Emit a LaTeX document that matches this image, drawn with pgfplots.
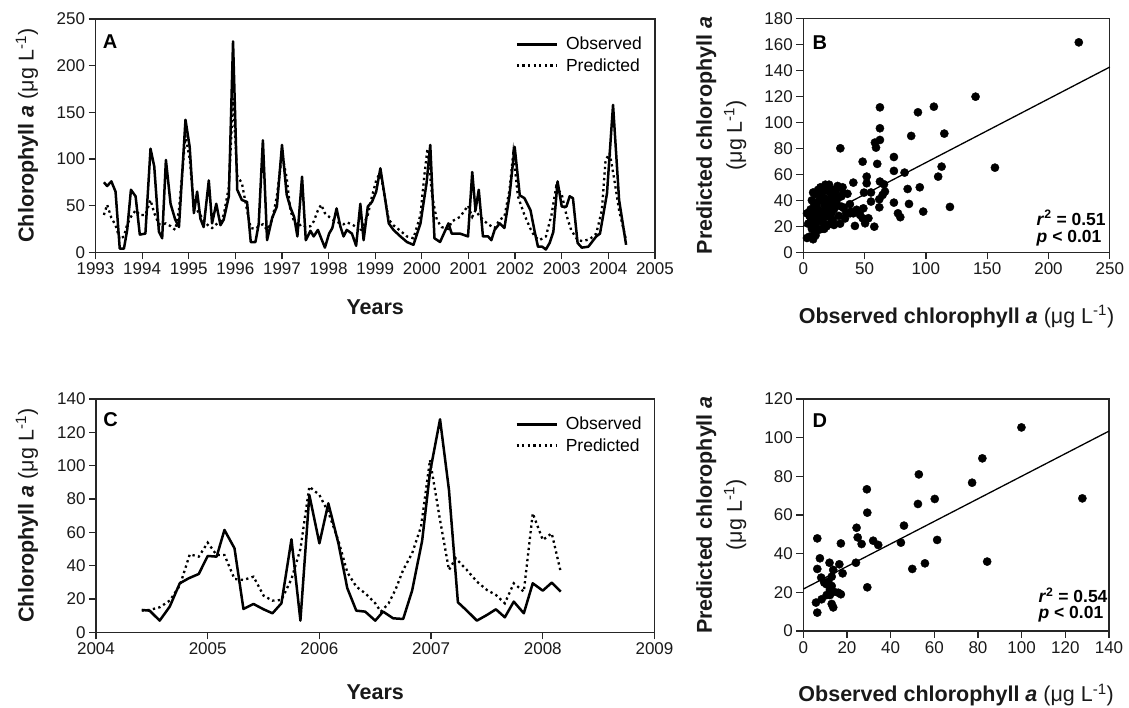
\documentclass[border=0pt]{standalone}
\usepackage{fontspec}
\setmainfont{Liberation Sans}
\usepackage{pgfplots}
\pgfplotsset{compat=1.18}

\pgfplotsset{
  panel/.style={
    scale only axis,
    axis line style={line width=1.2pt, color=black!85},
    every tick/.style={line width=1.2pt, color=black!85},
    tick align=outside, major tick length=7pt,
    tick pos=left,
    ticklabel style={font=\fontsize{17}{18}\selectfont, color=black!90},
    label style={font=\bfseries\fontsize{21.5}{24}\selectfont, color=black!90},
    /pgf/number format/assume math mode=true,
    /pgf/number format/1000 sep={},
    clip=false,
  },
  obs/.style={black, line width=2.5pt, line join=round},
  pre/.style={black, line width=2.3pt, dash pattern=on 2.3pt off 3.3pt},
  leg/.style={legend style={draw=none, fill=none, at={(rel axis cs:0.745,0.94)}, anchor=north west,
      font=\fontsize{17.5}{19}\selectfont, row sep=3pt, legend cell align=left},
    legend image code/.code={\draw[##1] (0pt,0pt) -- (40pt,0pt); \path (46pt,0pt);}},
  dots/.style={only marks, mark=*, mark size=4.1pt, black},
}

\newcommand{\chla}{Chlorophyll \textit{a} {\mdseries(μg L\textsuperscript{-1})}}
\newcommand{\obsl}{Observed chlorophyll \textit{a} {\mdseries(μg L\textsuperscript{-1})}}

\begin{document}
\begin{tikzpicture}
\useasboundingbox (0pt,0pt) rectangle (1129pt,708pt);

% ---------------- Panel A ----------------
\begin{axis}[panel, leg, at={(95.5pt,455.7pt)}, anchor=south west,
  width=559.5pt, height=233.3pt,
  xmin=1993, xmax=2005, ymin=0, ymax=250,
  xtick={1993,1994,...,2005}, ytick={0,50,...,250},
  xlabel={Years}, ylabel={\chla},
  xlabel style={at={(axis description cs:0.5,-0.2345)}, anchor=center},
  ylabel style={at={(axis description cs:-0.1224,0.5)}, anchor=center},
]
\addplot[obs] table {
1993.18 75
1993.25 71
1993.34 76
1993.43 65
1993.52 4
1993.61 4
1993.68 24
1993.76 67
1993.86 60
1993.95 19
1994.07 20
1994.18 111
1994.26 92
1994.36 22
1994.43 15
1994.51 99
1994.61 52
1994.71 35
1994.79 27
1994.93 142
1995.02 113
1995.11 42
1995.18 65
1995.25 36
1995.32 27
1995.43 77
1995.50 31
1995.59 52
1995.68 29
1995.75 35
1995.86 60
1995.95 226
1996.04 67
1996.14 56
1996.25 54
1996.33 11
1996.43 11
1996.50 30
1996.59 120
1996.68 13
1996.79 37
1996.89 49
1997.00 115
1997.10 62
1997.18 48
1997.26 38
1997.33 17
1997.43 81
1997.51 13
1997.61 23
1997.68 17
1997.77 24
1997.84 15
1997.92 5
1998.01 20
1998.08 26
1998.17 47
1998.25 28
1998.32 17
1998.39 24
1998.50 20
1998.59 7
1998.68 52
1998.75 13
1998.84 49
1998.93 54
1999.02 65
1999.11 90
1999.20 61
1999.29 31
1999.39 24
1999.54 17
1999.68 11
1999.82 8
1999.97 31
2000.10 74
2000.18 115
2000.27 15
2000.39 11
2000.57 31
2000.64 20
2000.82 20
2000.99 17
2001.08 86
2001.15 45
2001.22 67
2001.31 17
2001.42 17
2001.49 13
2001.56 24
2001.67 31
2001.77 26
2001.88 61
2001.99 113
2002.10 61
2002.20 58
2002.33 45
2002.42 22
2002.49 6
2002.58 6
2002.66 3
2002.74 10
2002.82 22
2002.91 76
2003.00 49
2003.10 49
2003.17 60
2003.24 58
2003.34 10
2003.43 5
2003.57 6
2003.74 17
2003.82 20
2003.97 63
2004.10 158
2004.23 56
2004.38 8
};
\addplot[pre] table {
1993.18 40
1993.25 51
1993.34 37
1993.43 29
1993.52 14
1993.61 17
1993.68 30
1993.76 38
1993.86 45
1993.95 40
1994.07 40
1994.18 56
1994.26 42
1994.36 30
1994.43 30
1994.51 31
1994.61 28
1994.71 24
1994.79 45
1994.93 125
1995.02 100
1995.11 50
1995.18 45
1995.25 40
1995.32 34
1995.43 28
1995.50 26
1995.59 30
1995.68 33
1995.75 40
1995.86 70
1995.95 165
1996.04 82
1996.14 74
1996.25 45
1996.33 26
1996.43 25
1996.50 28
1996.59 30
1996.68 24
1996.79 35
1996.89 60
1997.00 105
1997.10 80
1997.18 45
1997.26 33
1997.33 28
1997.43 30
1997.51 27
1997.61 28
1997.68 33
1997.77 45
1997.84 51
1997.92 42
1998.01 38
1998.08 35
1998.17 33
1998.25 31
1998.32 30
1998.39 32
1998.50 30
1998.59 27
1998.68 22
1998.75 30
1998.84 40
1998.93 60
1999.02 77
1999.11 86
1999.20 60
1999.29 35
1999.39 29
1999.54 23
1999.68 17
1999.82 15
1999.97 40
2000.05 81
2000.12 111
2000.22 60
2000.32 35
2000.42 27
2000.57 25
2000.64 33
2000.82 38
2000.99 50
2001.08 38
2001.15 45
2001.22 40
2001.31 35
2001.42 30
2001.56 26
2001.67 35
2001.77 38
2001.88 67
2001.96 106
2002.06 60
2002.20 40
2002.33 25
2002.42 17
2002.52 13
2002.66 17
2002.78 40
2002.88 70
2003.00 62
2003.10 40
2003.20 24
2003.34 13
2003.45 12
2003.60 14
2003.74 20
2003.86 45
2003.94 99
2004.03 106
2004.12 80
2004.23 45
2004.38 13
};
\legend{Observed, Predicted}
\node[font=\bfseries\fontsize{20}{22}\selectfont] at (rel axis cs:0.026,0.903) {A};
\end{axis}

% ---------------- Panel B ----------------
\begin{axis}[panel, at={(803.3pt,455.7pt)}, anchor=south west,
  width=306.5pt, height=234pt,
  xmin=0, xmax=250, ymin=0, ymax=180,
  xtick={0,50,...,250}, ytick={0,20,...,180},
  xlabel={\obsl},
  ylabel={Predicted chlorophyll \textit{a}\\{\mdseries(μg L\textsuperscript{-1})}},
  xlabel style={at={(axis description cs:0.5,-0.2756)}, anchor=center},
  ylabel style={at={(axis description cs:-0.2675,0.5)}, anchor=center, align=center,
    font=\bfseries\fontsize{21.5}{30}\selectfont},
]
\addplot[dots] table {
224.7 161.5
140.5 119.7
156.3 65.1
106.5 112
93.5 107.7
115 91.3
88 89.5
112.8 65.9
110 58.2
119.6 34.9
97.8 31.3
95 50
86.2 37.2
85.1 48.7
82.6 61.3
73.9 73.3
73.9 62.6
73.9 38.2
77.2 30
79.1 27
62.5 111.5
62.5 95.4
62.5 86.4
58.4 84.4
59.3 80.5
60.3 68
62.5 54.4
65.8 52.3
66.6 46.7
64.7 44.1
62 40.8
62 34.6
57.9 19.7
55.2 39
53.1 26.2
51.7 58.2
51.7 53.1
48.4 69.7
49.5 45.9
49 33.8
50.4 22.3
46.3 28.7
48.4 26.2
42.1 20.3
40.8 30
40.8 53.6
38.1 30
30.2 80
32.6 45.4
31.3 35.1
27.2 40.3
24.5 22.3
55.2 46
43.5 32.7
38.8 31.3
3 11
5 12
8 10
9 14
7 18
4 22
5 28
3 30
6 33
8 25
10 21
12 28
11 35
13 40
14 44
15 30
16 26
17 22
15 18
18 35
19 41
20 47
21 52
22 38
23 30
24 25
25 33
26 44
27 48
28 36
29 28
30 22
10 45
12 48
14 50
16 47
18 52
20 32
22 27
24 42
26 37
13 32
11 26
9 30
7 40
6 24
8 46
19 20
17 18
21 34
23 45
25 21
27 40
33 34
35 30
36 45
38 37
34 26
32 50
17 37
16 42
19 28
14 24
12 17
10 13
9 37
20 39
22 22
24 48
28 51
31 43
};
\addplot[black, line width=1.3pt] coordinates {(0,20) (250,142.5)};
\node[anchor=west, font=\bfseries\fontsize{17.5}{20}\selectfont] at (rel axis cs:0.75,0.147) {\textit{r}\textsuperscript{2} = 0.51};
\node[anchor=west, font=\bfseries\fontsize{17.5}{20}\selectfont] at (rel axis cs:0.75,0.062) {\textit{p} < 0.01};
\node[font=\bfseries\fontsize{20}{22}\selectfont] at (rel axis cs:0.054,0.897) {B};
\end{axis}

% ---------------- Panel C ----------------
\begin{axis}[panel, leg, at={(96pt,75.7pt)}, anchor=south west,
  width=558.5pt, height=233.3pt,
  xmin=2004, xmax=2009, ymin=0, ymax=140,
  xtick={2004,2005,...,2009}, ytick={0,20,...,140},
  xlabel={Years}, ylabel={\chla},
  xlabel style={at={(axis description cs:0.5,-0.257)}, anchor=center},
  ylabel style={at={(axis description cs:-0.1235,0.5)}, anchor=center},
]
\addplot[obs] table {
2004.41 13.4
2004.48 13
2004.57 7
2004.66 15.4
2004.75 29.4
2004.83 32.4
2004.92 35
2005.00 45.8
2005.08 45.4
2005.15 61.4
2005.24 50.4
2005.32 14
2005.41 17
2005.50 13.8
2005.58 11.4
2005.66 17.4
2005.75 55.8
2005.83 7
2005.91 82.4
2006.00 53.4
2006.08 77.4
2006.17 53.4
2006.25 26.4
2006.33 13
2006.41 12.4
2006.50 7
2006.57 12.4
2006.66 8.4
2006.75 8
2006.83 25
2006.92 55
2006.99 96
2007.08 127.8
2007.16 85.4
2007.24 18
2007.32 13
2007.41 7
2007.50 10.4
2007.58 13.8
2007.66 9
2007.74 18.4
2007.83 11.4
2007.91 29.4
2008.00 25
2008.08 29.8
2008.16 24.4
};
\addplot[pre] table {
2004.41 13
2004.48 13.4
2004.57 15
2004.66 19
2004.75 28
2004.84 46.8
2004.92 45.4
2005.00 53.8
2005.08 46.4
2005.15 46.4
2005.24 32
2005.32 31.4
2005.41 33.4
2005.50 22
2005.58 19
2005.66 19.4
2005.75 32
2005.83 50
2005.91 87.4
2006.00 82.4
2006.08 72
2006.17 55
2006.25 36
2006.33 27.4
2006.41 23.4
2006.50 17.4
2006.55 12.4
2006.62 17.4
2006.68 25.4
2006.75 37.4
2006.83 47.4
2006.91 63.4
2006.99 103.4
2007.08 67.4
2007.16 37.4
2007.22 44.4
2007.32 37.4
2007.41 30.4
2007.50 25.4
2007.58 22.4
2007.66 17.4
2007.74 29.4
2007.83 24.4
2007.91 71.4
2008.00 55.4
2008.08 59.4
2008.16 36.4
};
\legend{Observed, Predicted}
\node[font=\bfseries\fontsize{20}{22}\selectfont] at (rel axis cs:0.026,0.91) {C};
\end{axis}

% ---------------- Panel D ----------------
\begin{axis}[panel, at={(803.3pt,77pt)}, anchor=south west,
  width=305.7pt, height=232pt,
  xmin=0, xmax=140, ymin=0, ymax=120,
  xtick={0,20,...,140}, ytick={0,20,...,120},
  xlabel={\obsl},
  ylabel={Predicted chlorophyll \textit{a}\\{\mdseries(μg L\textsuperscript{-1})}},
  xlabel style={at={(axis description cs:0.5,-0.276)}, anchor=center},
  ylabel style={at={(axis description cs:-0.268,0.5)}, anchor=center, align=center,
    font=\bfseries\fontsize{21.5}{30}\selectfont},
]
\addplot[dots] table {
99.9 105.3
82 89.3
77.3 76.7
127.8 68.6
84.2 35.9
60.2 68.3
61.3 47.1
52.9 81
52.5 65.7
55.7 35
49.9 32.1
46.1 54.5
44.7 45.7
29.1 73.3
29.3 61.2
29.3 22.6
24.4 53.4
24.9 48.4
26.7 45
32 46.7
34.3 44.5
24.1 35.3
17.2 45.3
18 29.8
16.5 34.5
13.7 31.6
12 35.3
6.4 47.9
6.4 32.1
7.6 37.6
8.2 27.6
9.6 25
10.7 24.1
11.4 25.5
13 23.3
12.2 21.2
14 20.3
16 19.8
17.2 19
10.7 18.6
8.4 16.4
5.8 14.7
6.4 9.5
13 14
13.7 12.2
12.2 18.6
13 28.1
};
\addplot[black, line width=1.3pt] coordinates {(0,21.7) (140,103.4)};
\node[anchor=west, font=\bfseries\fontsize{17.5}{20}\selectfont] at (rel axis cs:0.758,0.155) {\textit{r}\textsuperscript{2} = 0.54};
\node[anchor=west, font=\bfseries\fontsize{17.5}{20}\selectfont] at (rel axis cs:0.758,0.072) {\textit{p} < 0.01};
\node[font=\bfseries\fontsize{20}{22}\selectfont] at (rel axis cs:0.054,0.906) {D};
\end{axis}
\end{tikzpicture}
\end{document}
